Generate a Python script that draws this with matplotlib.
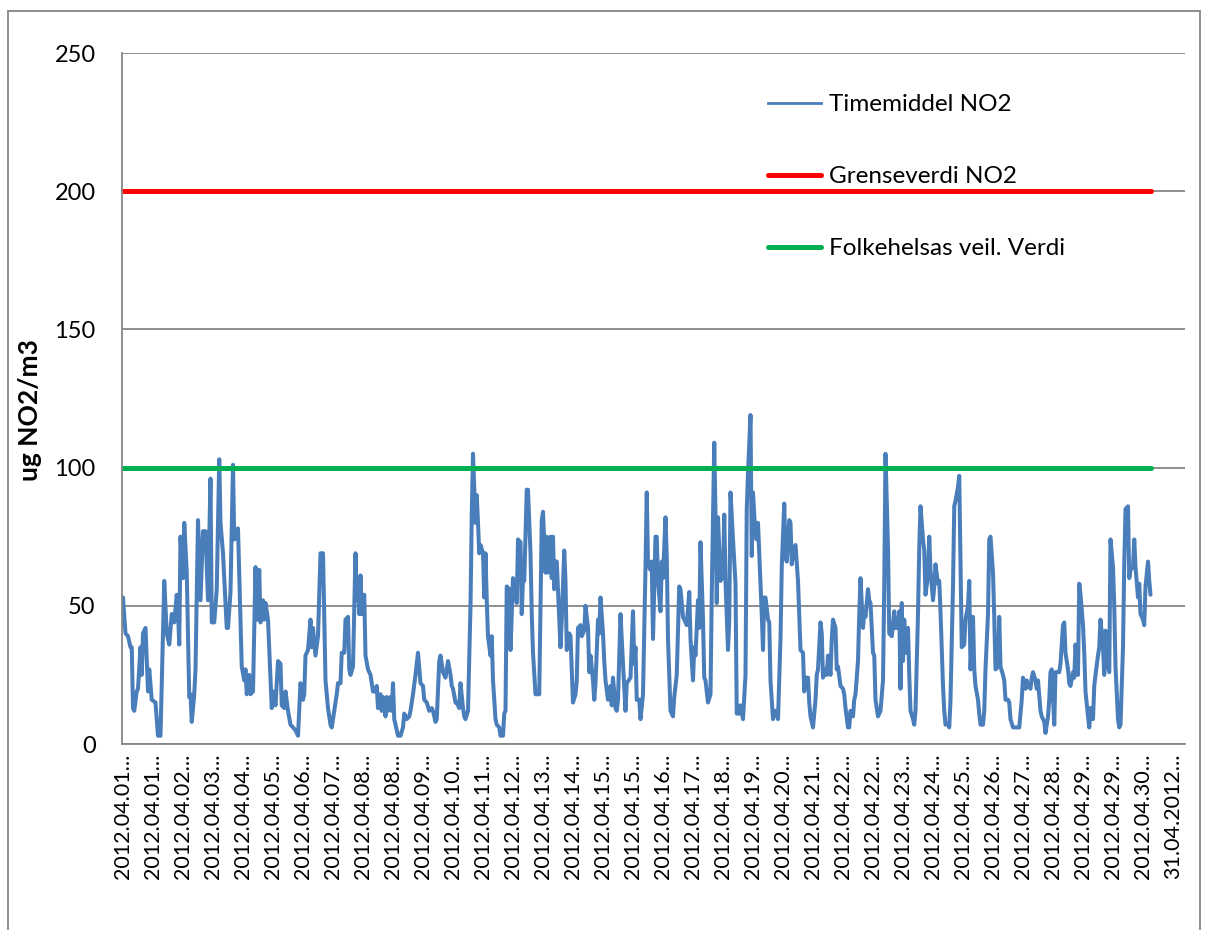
import matplotlib
matplotlib.use("Agg")
import matplotlib.pyplot as plt
from matplotlib.lines import Line2D
from matplotlib.patches import Rectangle

# hourly NO2 (row index on the category axis, value in ug/m3)
hour = [
    0, 2, 4, 6, 7, 8, 9, 11, 12, 14, 15, 16, 18, 20, 21, 23, 26, 28, 30, 33, 35, 37, 39, 41, 43, 44, 45, 46, 48, 49,
    51, 53, 54, 55, 57, 58, 60, 62, 64, 66, 68, 70, 71, 73, 75, 77, 78, 80, 83, 84, 86, 88, 89, 92,
    95, 97, 98, 99, 101, 102, 104, 106, 107, 109, 110, 112, 113, 114, 116, 119, 120, 122, 124, 126, 127, 129, 130, 132,
    134, 136, 138, 140, 142, 144, 145, 146, 148, 150, 151, 152, 154, 156, 158, 160, 162, 164, 166, 167, 169, 171, 172,
    174, 175, 177, 178, 180, 181, 182, 184, 186, 187, 188, 189, 190, 191, 193, 194, 196, 198, 200, 202, 203, 204,
    206, 207, 208, 210, 211, 212, 214, 215, 216, 217, 218, 220, 222, 224, 225, 227, 229, 230, 232, 234, 236, 238, 240,
    241, 243, 245, 247, 248, 250, 251, 253, 254, 256, 257, 258, 260, 262, 263, 264, 266, 267, 269, 270, 272, 273, 274,
    276, 278, 279, 280, 282, 283, 284, 285, 286, 288, 289, 290, 291, 292, 294, 295, 296, 298, 299, 301, 302, 304,
    305, 306, 307, 309, 310, 312, 314, 315, 316, 318, 319, 320, 321, 323, 324, 326, 327, 328, 330, 332, 333, 335, 336,
    338, 339, 340, 342, 343, 344, 345, 346, 347, 350, 351, 353, 354, 355, 357, 358, 360, 362, 363, 364, 366, 367, 369,
    370, 372, 373, 374, 376, 377, 378, 380, 381, 382, 384, 385, 386, 388, 390, 391, 392, 394, 395, 396, 398, 400, 402, 403,
    406, 408, 409, 410, 411, 413, 414, 416, 418, 419, 420, 422, 423, 424, 426, 427, 428, 430, 431, 432, 434, 435, 436,
    438, 440, 441, 443, 445, 446, 448, 450, 451, 453, 454, 456, 457, 458, 460, 461, 462, 464, 465, 466, 468, 470, 471,
    473, 474, 475, 476, 478, 479, 480, 481, 482, 484, 485, 486, 488, 490, 491, 493, 494, 496, 498, 499, 500, 502, 503,
    504, 506, 507, 508,
    511, 512, 513, 514, 516, 517, 518, 520, 521, 522, 524, 526, 527, 529, 530, 531, 533, 534, 535, 537, 538, 540, 541,
    542, 544, 545, 546, 548, 549, 550, 552, 554, 555, 556, 558, 559, 560, 562, 563, 564, 566, 567, 568, 570, 571, 572,
    574, 576, 577, 578, 580, 581, 582, 584, 585, 586, 588, 589, 590, 592, 593, 594, 596, 597, 598, 600, 601, 602, 604,
    605, 606, 608, 609, 610, 612, 613,
    615, 617, 618, 620, 621, 622, 623, 624, 625, 626, 628, 629, 630, 632, 633, 634, 636, 637, 638, 640, 641, 642, 644,
    645, 646, 648, 649, 650, 652, 653, 654, 656, 657, 658, 660, 661, 662, 664, 665, 666, 668, 669, 670, 671, 673, 674,
    676, 677, 678, 680, 681, 682, 684, 685, 686, 688, 689, 690, 692, 693, 694, 696, 697, 698, 700, 701, 702, 704, 705,
    706, 708, 709, 710, 712, 713, 714, 716, 717,
    719, 720, 722, 723, 724, 726, 727, 728, 730, 731, 732, 734, 735, 736, 737, 738, 740, 741, 742, 743, 745, 746, 748,
    749, 750, 752, 753, 754, 756, 757, 758, 760, 761, 762, 764, 765, 766, 768, 769, 770, 772, 773, 774, 776, 777, 778,
    780, 781, 782, 784, 785, 786, 788, 789, 790, 792, 793, 794, 796, 797, 798, 800, 801, 802, 804, 805, 806, 808, 809,
    810, 812, 813, 814, 816, 817, 818, 820, 821, 822,
]
no2 = [
    53, 40, 39, 35, 35, 13, 12, 19, 20, 35, 25, 40, 42, 19, 27, 16, 15, 3, 3, 59, 40, 36, 47, 44, 54, 48, 36, 75, 60, 80,
    62, 17, 18, 8, 18, 27, 81, 52, 77, 77, 52, 96, 44, 44, 56, 103, 80, 69, 42, 42, 55, 101, 74, 78,
    28, 23, 27, 18, 25, 18, 19, 64, 45, 63, 44, 52, 45, 51, 45, 13, 19, 14, 30, 29, 14, 13, 19, 12,
    7, 6, 5, 3, 22, 16, 18, 32, 34, 45, 35, 42, 32, 39, 69, 69, 23, 13, 7, 6, 12, 18, 22,
    22, 33, 33, 45, 46, 27, 25, 28, 69, 52, 59, 47, 61, 47, 54, 32, 27, 25, 19, 19, 21, 13,
    18, 12, 17, 10, 17, 12, 17, 12, 22, 9, 7, 3, 3, 6, 11, 9, 10, 12, 18, 25, 33, 22, 21,
    16, 15, 12, 13, 12, 8, 9, 30, 32, 26, 25, 24, 30, 25, 21, 20, 15, 15, 13, 22, 13, 10, 9,
    12, 50, 83, 105, 80, 90, 80, 69, 72, 69, 53, 69, 52, 39, 32, 39, 23, 9, 7, 6, 3, 3,
    11, 12, 57, 56, 34, 60, 57, 51, 74, 73, 47, 60, 59, 92, 92, 69, 47, 33, 18, 18, 18, 81, 84,
    62, 75, 62, 75, 60, 75, 56, 66, 66, 35, 45, 70, 59, 34, 40, 39, 15, 18, 23, 42, 43, 39, 41,
    50, 42, 26, 32, 23, 16, 22, 45, 40, 53, 40, 30, 23, 16, 21, 14, 24, 13, 12, 16, 47, 29, 12, 22,
    24, 48, 29, 35, 16, 16, 9, 18, 64, 91, 65, 63, 66, 38, 75, 75, 59, 48, 66, 60, 82, 68, 38,
    12, 10, 17, 25, 57, 56, 46, 44, 43, 55, 38, 23, 35, 32, 52, 42, 73, 45, 24, 23, 15, 18, 54,
    109, 83, 51, 82, 59, 69, 60, 83, 59, 34, 45, 91, 74, 58, 11, 11, 14, 9, 25, 85, 98, 119, 68,
    91, 75, 74, 80,
    47, 34, 53, 53, 45, 44, 23, 9, 12, 12, 9, 38, 64, 87, 68, 66, 81, 80, 65, 71, 72, 59, 47,
    34, 33, 19, 24, 24, 15, 10, 6, 16, 25, 27, 44, 40, 24, 27, 25, 32, 25, 38, 45, 42, 27, 28,
    21, 20, 18, 13, 6, 6, 12, 10, 16, 18, 30, 47, 60, 42, 48, 46, 56, 52, 51, 33, 32, 16, 10,
    11, 12, 23, 57, 105, 71, 40,
    39, 48, 42, 42, 48, 20, 51, 30, 45, 33, 42, 25, 12, 9, 7, 12, 47, 71, 86, 74, 70, 54, 61,
    75, 63, 52, 57, 65, 58, 59, 48, 21, 12, 7, 7, 6, 16, 57, 86, 88, 93, 97, 65, 35, 36, 45,
    50, 59, 27, 46, 27, 21, 16, 11, 7, 7, 12, 27, 47, 74, 75, 62, 46, 27, 28, 46, 28, 25, 23,
    16, 16, 15, 9, 6, 6, 6, 6, 6,
    16, 24, 20, 23, 21, 20, 24, 26, 23, 20, 23, 12, 10, 9, 8, 4, 10, 16, 26, 27, 7, 26, 26,
    26, 29, 43, 44, 33, 27, 22, 21, 26, 24, 36, 25, 58, 54, 43, 33, 19, 10, 6, 13, 9, 21, 25,
    32, 35, 45, 35, 25, 41, 28, 26, 74, 64, 50, 28, 9, 6, 7, 35, 65, 85, 86, 60, 63, 64, 74,
    64, 53, 58, 47, 45, 43, 57, 66, 59, 54,
]
assert len(hour) == len(no2)

grenseverdi = 200
folkehelse = 100

# every 24th row gets a label
tick_days = ["01", "01", "02", "03", "04", "05", "06", "07", "08", "08", "09", "10", "11", "12", "13", "14",
             "15", "15", "16", "17", "18", "19", "20", "21", "22", "22", "23", "24", "25", "26", "27", "28",
             "29", "29", "30"]
tick_labels = ["2012.04." + d + "..." for d in tick_days] + ["31.04.2012..."]

plt.rcParams["font.family"] = ["Lato", "DejaVu Sans"]

fig = plt.figure(figsize=(12.05, 9.30), dpi=100)
ax = fig.add_axes([122 / 1205, 1 - 744 / 930, 1063 / 1205, 691 / 930])

ax.plot(hour, no2, color="#4A7EBB", lw=2.9, solid_joinstyle="round", solid_capstyle="round")
ax.plot([hour[0], hour[-1]], [grenseverdi, grenseverdi], color="#FF0000", lw=3.6, solid_capstyle="round")
ax.plot([hour[0], hour[-1]], [folkehelse, folkehelse], color="#00B050", lw=3.6, solid_capstyle="round")

ax.set_xlim(-0.8, 849.6)
ax.set_ylim(0, 250)
ax.set_yticks(range(0, 251, 50))
ax.set_xticks([24 * i for i in range(len(tick_labels))])
ax.set_xticklabels(tick_labels, rotation=90, fontsize=15.5)
ax.tick_params(axis="y", length=0, pad=19, labelsize=17)
ax.tick_params(axis="x", length=0, pad=7)
ax.grid(axis="y", color="#868686", lw=1.3)
ax.set_axisbelow(True)
for s in ["top", "right"]:
    ax.spines[s].set_visible(False)
for s in ["left", "bottom"]:
    ax.spines[s].set_color("#868686")
    ax.spines[s].set_linewidth(1.3)

fig.text(30 / 1205, 1 - 410 / 930, "ug NO2/m3", rotation=90, ha="center", va="center",
         fontsize=19, fontweight="bold")

handles = [
    Line2D([], [], color="#4A7EBB", lw=2.0),
    Line2D([], [], color="#FF0000", lw=3.6, solid_capstyle="round"),
    Line2D([], [], color="#00B050", lw=3.6, solid_capstyle="round"),
]
ax.legend(handles, ["Timemiddel NO2", "Grenseverdi NO2", "Folkehelsas veil. Verdi"],
          loc="upper left", bbox_to_anchor=(768 / 1205, 1 - 94 / 930), bbox_transform=fig.transFigure,
          frameon=False, fontsize=17.5, handlelength=2.2, handletextpad=0.3, labelspacing=2.1,
          borderpad=0, borderaxespad=0)

fig.add_artist(Rectangle((8 / 1205, -0.05), 1192 / 1205, 1.05 - 11 / 930, transform=fig.transFigure,
                         fill=False, edgecolor="#868686", lw=1.3))

fig.savefig("out.png", dpi=100)
